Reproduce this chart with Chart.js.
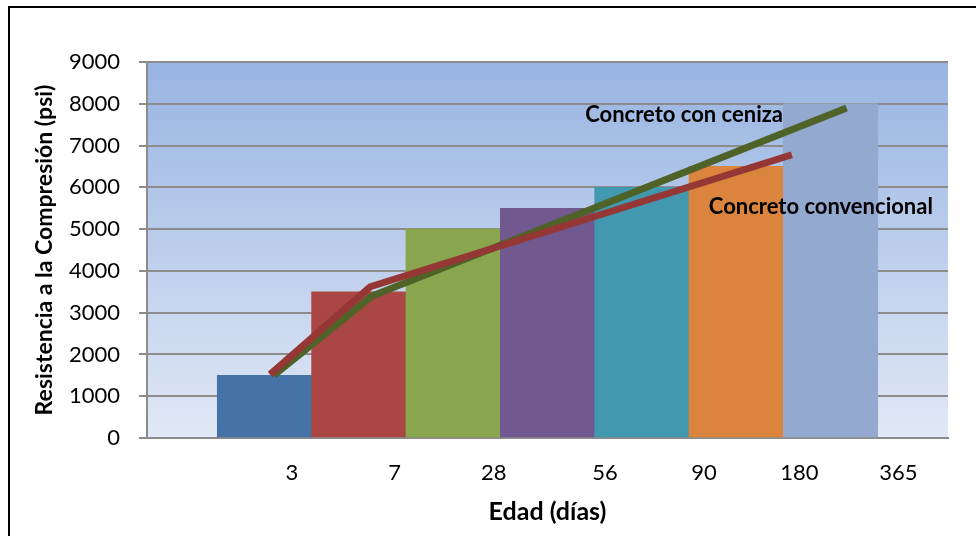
<!DOCTYPE html>
<html>
<head>
<meta charset="utf-8">
<script src="https://cdn.jsdelivr.net/npm/chart.js@4/dist/chart.umd.min.js"></script>
<style>
  html, body { margin: 0; padding: 0; background: #ffffff; overflow: hidden; }
  #wrap { position: relative; width: 976px; height: 536px; }
  #frame { position: absolute; left: 8px; top: 6px; width: 1000px; height: 600px;
           border: 2px solid #000000; box-sizing: border-box; pointer-events: none; }
  canvas { position: absolute; left: 0; top: 0; }
</style>
</head>
<body>
<div id="wrap">
  <canvas id="chart" width="976" height="536"></canvas>
  <div id="frame"></div>
</div>
<script>
// Edad de ensayo (días) y resistencia a la compresión (psi)
const ages = ['3', '7', '28', '56', '90', '180', '365'];
const strength = [1500, 3500, 5000, 5500, 6000, 6500, 8000];

// Curvas de tendencia: x en posición de barra (1 = primera barra)
const convencionalX = [1.06, 2.12, 6.59];
const convencionalY = [1520, 3620, 6780];
const cenizaX = [1.10, 2.14, 7.17];
const cenizaY = [1500, 3400, 7900];

const yTicks = [0, 1000, 2000, 3000, 4000, 5000, 6000, 7000, 8000, 9000];

// Layout: where each age label sits along the x axis, and where the curve names go
const AGE_LABEL_AT = [1.29, 2.38, 3.43, 4.61, 5.66, 6.67, 7.72];
const CURVE_NAMES = [
  { text: 'Concreto con ceniza', x: 4.40, y: 7730, size: 22 },
  { text: 'Concreto convencional', x: 5.71, y: 5530, size: 22 }
];

const barColors = ['#4572A7', '#AA4643', '#89A54E', '#71588F', '#4198AF', '#DB843D', '#93A9CF'];
const FONT = 'Lato, "Open Sans", sans-serif';

const plotBackground = {
  id: 'plotBackground',
  beforeDraw(chart) {
    const { ctx, chartArea: a } = chart;
    const g = ctx.createLinearGradient(0, a.top, 0, a.bottom);
    g.addColorStop(0, '#98b4e2');
    g.addColorStop(1, '#e1e8f5');
    ctx.save();
    ctx.fillStyle = g;
    ctx.fillRect(a.left, a.top, a.right - a.left, a.bottom - a.top);
    ctx.restore();
  }
};

const curveNames = {
  id: 'curveNames',
  afterDatasetsDraw(chart) {
    const { ctx, scales } = chart;
    ctx.save();
    ctx.fillStyle = '#000000';
    ctx.textAlign = 'left';
    ctx.textBaseline = 'middle';
    CURVE_NAMES.forEach(n => {
      ctx.font = 'bold ' + n.size + 'px ' + FONT;
      ctx.fillText(n.text, scales.x.getPixelForValue(n.x), scales.y.getPixelForValue(n.y));
    });
    ctx.restore();
  }
};

const toPoints = (xs, ys) => xs.map((x, i) => ({ x, y: ys[i] }));

new Chart(document.getElementById('chart'), {
  data: {
    datasets: [
      {
        type: 'line',
        label: 'Concreto convencional',
        data: toPoints(convencionalX, convencionalY),
        borderColor: '#953735',
        borderWidth: 7,
        borderCapStyle: 'butt',
        borderJoinStyle: 'miter',
        pointRadius: 0,
        tension: 0,
        order: 1
      },
      {
        type: 'line',
        label: 'Concreto con ceniza',
        data: toPoints(cenizaX, cenizaY),
        borderColor: '#4F6228',
        borderWidth: 7,
        borderCapStyle: 'butt',
        borderJoinStyle: 'miter',
        pointRadius: 0,
        tension: 0,
        order: 2
      },
      {
        type: 'bar',
        label: 'Resistencia',
        data: strength.map((v, i) => ({ x: i + 1, y: v })),
        backgroundColor: barColors,
        borderWidth: 0,
        barPercentage: 1,
        categoryPercentage: 1,
        order: 3
      }
    ]
  },
  options: {
    responsive: false,
    animation: false,
    devicePixelRatio: 1,
    layout: { padding: { left: 0, top: 62, right: 28, bottom: 0 } },
    plugins: { legend: { display: false }, tooltip: { enabled: false } },
    scales: {
      x: {
        type: 'linear',
        offset: false,
        min: -0.245,
        max: 8.245,
        afterFit(scale) { scale.height = 98; },
        afterBuildTicks(scale) { scale.ticks = AGE_LABEL_AT.map(v => ({ value: v })); },
        grid: { display: false, drawTicks: false },
        border: { display: true, color: '#8c8c8c', width: 2 },
        ticks: {
          autoSkip: false,
          maxRotation: 0,
          padding: 22,
          color: '#000000',
          font: { family: FONT, size: 22 },
          callback: (v, i) => ages[i]
        },
        title: {
          display: true,
          text: 'Edad (días)',
          color: '#000000',
          font: { family: FONT, size: 25, weight: 'bold' },
          padding: { top: 0, bottom: 9 }
        }
      },
      y: {
        type: 'linear',
        min: 0,
        max: 9000,
        afterFit(scale) { scale.width = 147; },
        afterBuildTicks(scale) { scale.ticks = yTicks.map(v => ({ value: v })); },
        grid: { color: '#8c8c8c', lineWidth: 2, tickLength: 8, drawTicks: true },
        border: { display: true, color: '#8c8c8c', width: 2 },
        ticks: {
          padding: 19,
          color: '#000000',
          font: { family: FONT, size: 22 },
          callback: v => String(v)
        },
        title: {
          display: true,
          text: 'Resistencia a la Compresión (psi)',
          color: '#000000',
          font: { family: FONT, size: 23, weight: 'bold' },
          padding: { top: 31, bottom: 0 }
        }
      }
    }
  },
  plugins: [plotBackground, curveNames]
});
</script>
</body>
</html>
